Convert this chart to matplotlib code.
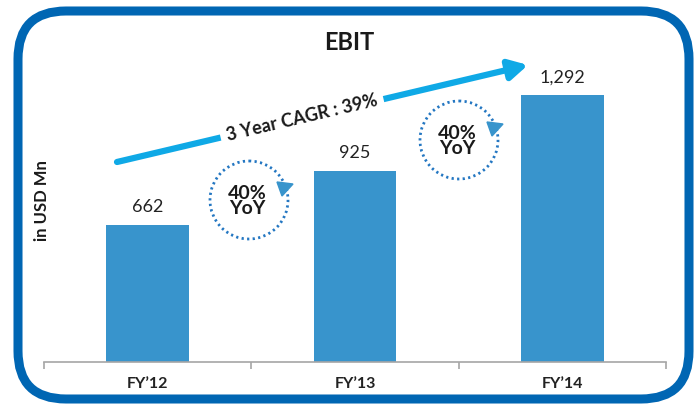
import numpy as np
import matplotlib.pyplot as plt
from matplotlib.patches import FancyBboxPatch, Circle, Polygon

plt.rcParams['font.family'] = ['Lato', 'DejaVu Sans']

# data
years = ["FY\u201912", "FY\u201913", "FY\u201914"]
ebit = [662, 925, 1292]
cagr_text = "3 Year CAGR : 39%"
yoy_text = ["40%\nYoY", "40%\nYoY"]

bar_color = "#3894cc"
frame_color = "#0066b3"
arrow_color = "#0fa9e6"
dot_color = "#2477c2"

fig = plt.figure(figsize=(6.98, 4.05), dpi=100)

# main bar axes, placed in pixel terms (bottom at y=362, x 44..666)
W, H = 698, 405
ax = fig.add_axes([44 / W, (H - 362) / H, 622 / W, 310 / H])
x = np.arange(len(years))
ax.bar(x, ebit, width=0.4, color=bar_color, zorder=2)
ax.set_xlim(-0.5, 2.5)
ax.set_ylim(0, 1500)
for i, v in enumerate(ebit):
    ax.annotate(f"{v:,}", (i, v), xytext=(0, 7), textcoords="offset points",
                ha="center", va="bottom", fontsize=13, color="#222222")

for s in ["top", "right", "left"]:
    ax.spines[s].set_visible(False)
ax.spines["bottom"].set_color("#a6a6a6")
ax.spines["bottom"].set_linewidth(1.2)
ax.set_yticks([])
ax.set_xticks([-0.5, 0.5, 1.5, 2.5])
ax.set_xticklabels([])
ax.tick_params(axis="x", length=5, color="#a6a6a6", width=1.2)
ax.set_xticks(x, minor=True)
ax.set_xticklabels(years, minor=True, fontsize=11.5, fontweight="bold", color="#222222")
ax.tick_params(axis="x", which="minor", length=0, pad=11)
ax.patch.set_alpha(0)

# overlay in pixel coordinates for frame and annotations
ov = fig.add_axes([0, 0, 1, 1], zorder=3)
ov.set_xlim(0, W)
ov.set_ylim(H, 0)
ov.axis("off")
ov.patch.set_alpha(0)

frame = FancyBboxPatch((18, 11), 671, 388, boxstyle="round,pad=0,rounding_size=48",
                       fill=False, edgecolor=frame_color, linewidth=6.5)
ov.add_patch(frame)

ov.text(349, 43, "EBIT", ha="center", va="center", fontsize=17, fontweight="bold", color="#1a1a1a")
ov.text(42, 201, "in USD Mn", ha="center", va="center", rotation=90, fontsize=12,
        fontweight="bold", color="#1a1a1a")

# CAGR arrow
p0 = np.array([117, 162])
p1 = np.array([528, 65])
ov.annotate("", xy=p1, xytext=p0,
            arrowprops=dict(arrowstyle="-|>,head_length=1.1,head_width=0.6",
                            color=arrow_color, lw=4.5, shrinkA=0, shrinkB=0))
ang = np.degrees(np.arctan2(p0[1] - p1[1], p1[0] - p0[0]))
ov.text(302, 118, cagr_text, ha="center", va="center", rotation=ang, fontsize=13,
        fontweight="bold", color="#1a1a1a", rotation_mode="anchor",
        bbox=dict(boxstyle="square,pad=0.35", fc="white", ec="none"))

# YoY dotted loops
for (cx, cy), t in zip([(249, 200), (459, 140)], yoy_text):
    ov.add_patch(Circle((cx, cy), 39, fill=False, edgecolor=dot_color, lw=2,
                        linestyle=(0, (0.8, 1.2))))
    tri = [(cx + 28, cy - 18), (cx + 44, cy - 16), (cx + 33, cy - 4)]
    ov.add_patch(Polygon(tri, closed=True, color=bar_color, zorder=4))
    ov.text(cx - 2, cy + 1, t, ha="center", va="center", fontsize=14, fontweight="bold",
            color="#1a1a1a", linespacing=0.9)

fig.savefig("out.png", dpi=100)
